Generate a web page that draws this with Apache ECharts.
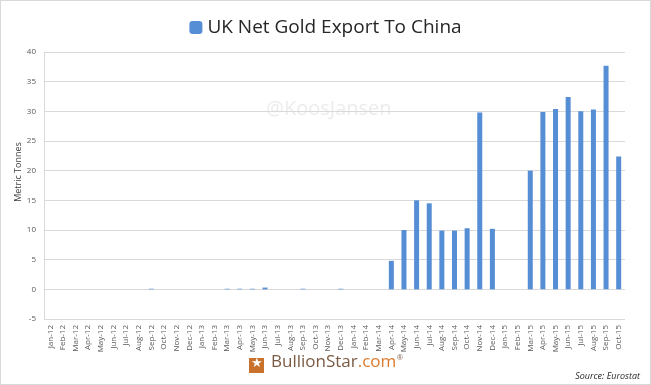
<!DOCTYPE html>
<html><head><meta charset="utf-8">
<script src="https://cdn.jsdelivr.net/npm/echarts@6/dist/echarts.min.js"></script>
<style>html,body{margin:0;padding:0;background:#fff}#c{width:651px;height:385px;box-sizing:border-box;border:1px solid #d9d9d9}</style>
</head><body><div id="c"></div>
<script>
const categories = ["Jan-12","Feb-12","Mar-12","Apr-12","May-12","Jun-12","Jul-12","Aug-12","Sep-12","Oct-12","Nov-12","Dec-12",
"Jan-13","Feb-13","Mar-13","Apr-13","May-13","Jun-13","Jul-13","Aug-13","Sep-13","Oct-13","Nov-13","Dec-13",
"Jan-14","Feb-14","Mar-14","Apr-14","May-14","Jun-14","Jul-14","Aug-14","Sep-14","Oct-14","Nov-14","Dec-14",
"Jan-15","Feb-15","Mar-15","Apr-15","May-15","Jun-15","Jul-15","Aug-15","Sep-15","Oct-15"];
const exportTonnes = [0,0,0,0,0,0,0,0,0.1,0,0,0,
0,0,0.1,0.1,0.1,0.3,0,0,0.1,0,0,0.1,
0,0,0,4.8,10.0,15.0,14.5,9.9,9.9,10.3,29.8,10.2,
0,0,20.0,29.9,30.4,32.4,30.0,30.3,37.7,22.4];
const seriesName = "UK Net Gold Export To China";
const yAxisName = "Metric Tonnes";
const yTicks = {min:-5, max:40, interval:5};

const chart = echarts.init(document.getElementById('c'));
chart.setOption({
  animation:false,
  legend:{data:[seriesName], top:12, left:'center', itemWidth:13, itemHeight:13, itemGap:10,
    textStyle:{fontFamily:'Open Sans', fontSize:19, color:'#262626'}},
  grid:{left:43, right:25, top:51, bottom:65},
  xAxis:{type:'category', data:categories,
    axisLine:{show:false, onZero:false}, axisTick:{show:false},
    axisLabel:{rotate:90, interval:0, fontSize:8, color:'#595959', fontFamily:'Open Sans', margin:6}},
  yAxis:{type:'value', min:yTicks.min, max:yTicks.max, interval:yTicks.interval,
    axisLine:{show:true, lineStyle:{color:'#d9d9d9'}}, axisTick:{show:false},
    axisLabel:{fontSize:8, color:'#595959', fontFamily:'Open Sans', margin:8},
    splitLine:{lineStyle:{color:'#d9d9d9'}}},
  series:[{name:seriesName, type:'bar', data:exportTonnes, barWidth:5,
    itemStyle:{color:'#558ed5'}}],
  graphic:[
    {type:'text', x:17, y:171, rotation:Math.PI/2, style:{text:yAxisName, fontSize:9, fontFamily:'Open Sans', fill:'#404040', align:'center', verticalAlign:'middle'}},
    {type:'text', left:265, top:98, z:-1, style:{text:'@KoosJansen', fontSize:20, fontFamily:'Open Sans', fill:'#ececec'}},
    {type:'rect', left:248, top:357, shape:{width:15, height:15}, style:{fill:'#c9722c'}},
    {type:'text', left:250, top:356, style:{text:'★', fontSize:13, fill:'#fff'}},
    {type:'text', left:270, top:353, style:{rich:{a:{fontSize:17, fontFamily:'Open Sans', fill:'#7b5a44'}, b:{fontSize:17, fontFamily:'Open Sans', fill:'#de7a2a'}}, text:'{a|BullionStar}{b|.com}'}},
    {type:'text', left:396, top:353, style:{text:'®', fontSize:8, fill:'#7b5a44'}},
    {type:'text', right:10, top:371, style:{text:'Source: Eurostat', fontSize:9, fontStyle:'italic', fontFamily:'Open Sans', fill:'#262626'}}
  ]
});
</script></body></html>
